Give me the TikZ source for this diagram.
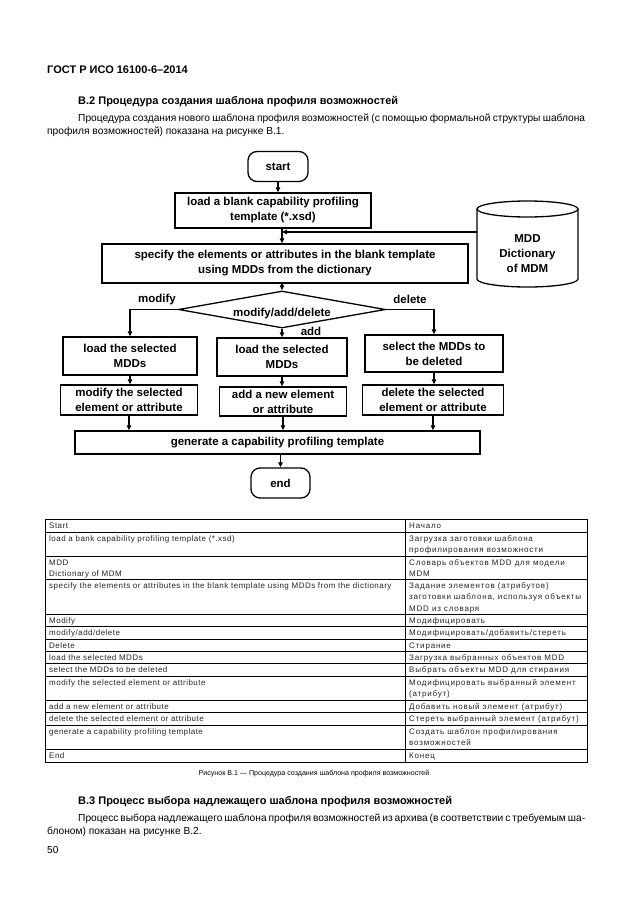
\documentclass[tikz,border=0pt]{standalone}
\usepackage{fontspec}
\setmainfont{Liberation Sans}
\newfontfamily\tabfont[LetterSpace=6]{Liberation Sans}
\newfontfamily\tabfontr[LetterSpace=10]{Liberation Sans}
\usetikzlibrary{arrows.meta,calc,shapes.geometric}
\begin{document}
\begin{tikzpicture}[x=1pt,y=-1pt,
  fbox/.style={draw, line width=1.3pt, inner sep=0pt, align=center,
    font=\fontsize{11.5}{15}\selectfont\bfseries},
  term/.style={fbox, rounded corners=9pt},
  arr/.style={line width=1.2pt, -{Triangle[length=5pt,width=4.5pt]}},
  lab/.style={inner sep=0pt, font=\fontsize{11.5}{12}\selectfont\bfseries},
  cell/.style={anchor=north west, inner sep=0pt, align=left,
    font=\tabfont\fontsize{8}{11.5}\selectfont, text=black!85},
  cellr/.style={cell, font=\tabfontr\fontsize{8}{11.5}\selectfont},
  body/.style={anchor=base west, inner sep=0pt, font=\fontsize{10.2}{12}\selectfont},
  head/.style={anchor=base west, inner sep=0pt, font=\fontsize{11}{12}\selectfont\bfseries},
  grid/.style={line width=0.8pt}
]
\useasboundingbox (0,0) rectangle (630,913);
\fill[white] (0,0) rectangle (630,913);

% ---------- page text ----------
\node[head] (hdr) at (47,73) {ГОСТ Р ИСО 16100-6–2014};
\node[head] (h2) at (78,104) {В.2 Процедура создания шаблона профиля возможностей};
\node[body] (p1a) at (78,121.5) {\makebox[507pt][s]{Процедура создания нового шаблона профиля возможностей (с помощью формальной структуры шаблона}};
\node[body] (p1b) at (47,134.5) {профиля возможностей) показана на рисунке В.1.};

% ---------- flowchart ----------
\node[term, minimum width=60pt, minimum height=30pt] (nstart) at (278,166.5) {start};
\node[fbox, minimum width=196pt, minimum height=35pt] (load) at (273,210.5)
  {load a blank capability profiling\\template (*.xsd)};
\node[fbox, minimum width=366pt, minimum height=39pt] (spec) at (285,263.5)
  {specify the elements or attributes in the blank template\\using MDDs from the dictionary};

% cylinder
\draw[line width=1.3pt] (527.5,209) ellipse [x radius=50.5, y radius=8];
\draw[line width=1.3pt] (477,209) -- (477,279) arc[start angle=180, end angle=0, x radius=50.5, y radius=8] -- (578,209);
\node[inner sep=0pt, align=center, font=\fontsize{11.5}{15}\selectfont\bfseries] (mdd) at (527.5,254) {MDD\\Dictionary\\of MDM};
\coordinate (mddL) at (477,232);

% decision
\node[diamond, draw, line width=1.3pt, minimum width=207pt, minimum height=37pt, inner sep=0pt] (dec) at (282,309.5) {};
\node[lab] (dectxt) at (282,313.5) {modify/add/delete};
\node[lab] (lmod) at (157,300) {modify};
\node[lab] (ldel) at (410,299.5) {delete};
\node[lab] (ladd) at (311,331.5) {add};

% row 1
\node[fbox, minimum width=134pt, minimum height=38pt] (lb1) at (130,356) {load the selected\\MDDs};
\node[fbox, minimum width=130pt, minimum height=38pt] (mb1) at (282,357) {load the selected\\MDDs};
\node[fbox, minimum width=138pt, minimum height=37pt] (rb1) at (434,353.5) {select the MDDs to\\be deleted};
% row 2
\node[fbox, minimum width=137pt, minimum height=30pt] (lb2) at (129,400) {modify the selected\\element or attribute};
\node[fbox, minimum width=127pt, minimum height=29pt] (mb2) at (283,401.5) {add a new element\\or attribute};
\node[fbox, minimum width=141pt, minimum height=30pt] (rb2) at (433,400) {delete the selected\\element or attribute};

\node[fbox, minimum width=405pt, minimum height=23pt] (gen) at (277.5,442.5) {generate a capability profiling template};
\node[term, minimum width=59pt, minimum height=30pt] (nend) at (280.5,483) {end};

% connectors
\draw[arr] (nstart.south) -- (nstart.south |- load.north);
\draw[arr] (load.south -| dec.north) -- (spec.north -| dec.north);
\draw[arr] (mddL) -- (mddL -| dec.north);
\draw[arr] (spec.south -| dec.north) -- (dec.north);
\draw[arr] (dec.west) -| (lb1.north);
\draw[arr] (dec.east) -| (rb1.north);
\draw[arr] (dec.south) -- (dec.south |- mb1.north);
\draw[arr] (lb1.south) -- (lb1.south |- lb2.north);
\draw[arr] (mb1.south) -- (mb1.south |- mb2.north);
\draw[arr] (rb1.south) -- (rb1.south |- rb2.north);
\draw[arr] (lb2.south) -- (lb2.south |- gen.north);
\draw[arr] (mb2.south) -- (mb2.south |- gen.north);
\draw[arr] (rb2.south) -- (rb2.south |- gen.north);
\draw[arr] (nend.north |- gen.south) -- (nend.north);

% ---------- table ----------
\draw[grid] (45,519) rectangle (587,762);
\draw[grid] (405,519) -- (405,762);
\foreach \yy in {532,556,579,614,626,639,651,663,676,700,712,725,749}
  \draw[grid] (45,\yy) -- (587,\yy);

\newcommand{\cs}{\rule{0pt}{6pt}}
\node[cell] (L1) at (49,522) {\cs Start};
\node[cell] (L2) at (49,535) {\cs load a bank capability profiling template (*.xsd)};
\node[cell] (L3) at (49,559) {\cs MDD\\Dictionary of MDM};
\node[cell] (L4) at (49,582) {\cs specify the elements or attributes in the blank template using MDDs from the dictionary};
\node[cell] (L5) at (49,617) {\cs Modify};
\node[cell] (L6) at (49,629) {\cs modify/add/delete};
\node[cell] (L7) at (49,642) {\cs Delete};
\node[cell] (L8) at (49,654) {\cs load the selected MDDs};
\node[cell] (L9) at (49,666) {\cs select the MDDs to be deleted};
\node[cell] (L10) at (49,679) {\cs modify the selected element or attribute};
\node[cell] (L11) at (49,703) {\cs add a new element or attribute};
\node[cell] (L12) at (49,715) {\cs delete the selected element or attribute};
\node[cell] (L13) at (49,728) {\cs generate a capability profiling template};
\node[cell] (L14) at (49,752) {\cs End};

\node[cellr] (R1) at (409,522) {\cs Начало};
\node[cellr] (R2) at (409,535) {\cs Загрузка заготовки шаблона\\профилирования возможности};
\node[cellr] (R3) at (409,559) {\cs Словарь объектов MDD для модели\\MDM};
\node[cellr] (R4) at (409,582) {\cs Задание элементов (атрибутов)\\заготовки шаблона, используя объекты\\MDD из словаря};
\node[cellr] (R5) at (409,617) {\cs Модифицировать};
\node[cellr] (R6) at (409,629) {\cs Модифицировать/добавить/стереть};
\node[cellr] (R7) at (409,642) {\cs Стирание};
\node[cellr] (R8) at (409,654) {\cs Загрузка выбранных объектов MDD};
\node[cellr] (R9) at (409,666) {\cs Выбрать объекты MDD для стирания};
\node[cellr] (R10) at (409,679) {\cs Модифицировать выбранный элемент\\(атрибут)};
\node[cellr] (R11) at (409,703) {\cs Добавить новый элемент (атрибут)};
\node[cellr] (R12) at (409,715) {\cs Стереть выбранный элемент (атрибут)};
\node[cellr] (R13) at (409,728) {\cs Создать шаблон профилирования\\возможностей};
\node[cellr] (R14) at (409,752) {\cs Конец};

% ---------- bottom text ----------
\node[inner sep=0pt, anchor=base, font=\fontsize{7.1}{10}\selectfont] (cap) at (314,775.5)
  {Рисунок В.1 — Процедура создания шаблона профиля возможностей};
\node[head] (h3) at (78,804) {В.3 Процесс выбора надлежащего шаблона профиля возможностей};
\node[body] (p2a) at (78,821.5) {\makebox[507pt][s]{Процесс выбора надлежащего шаблона профиля возможностей из архива (в соответствии с требуемым ша-}};
\node[body] (p2b) at (47,834.5) {блоном) показан на рисунке В.2.};
\node[body] (pg) at (47,853) {50};
\end{tikzpicture}
\end{document}
